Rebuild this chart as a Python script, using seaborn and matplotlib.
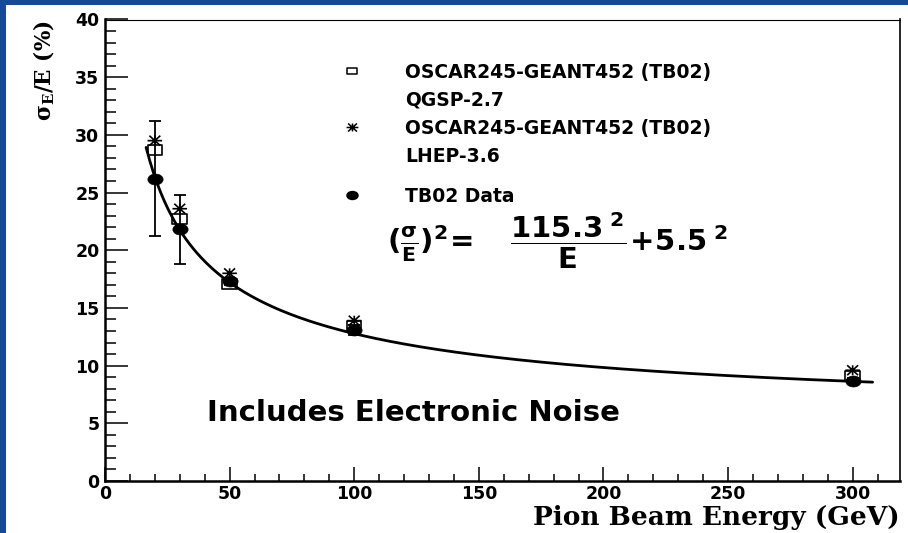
import numpy as np
import pandas as pd
import matplotlib
matplotlib.use("Agg")
import matplotlib.pyplot as plt
from matplotlib.path import Path
from matplotlib.patches import Rectangle
from matplotlib.lines import Line2D
import seaborn as sns

# Beam energies (GeV) and fractional resolution sigma_E/E (%)
energy = [20, 30, 50, 100, 300]
qgsp_res = [28.7, 22.7, 17.1, 13.4, 9.1]      # OSCAR245-GEANT452 (TB02) QGSP-2.7
lhep_res = [29.5, 23.6, 18.0, 13.9, 9.6]      # OSCAR245-GEANT452 (TB02) LHEP-3.6
data_res = [26.2, 21.8, 17.3, 13.1, 8.7]      # TB02 Data
data_err = [5.0, 2.95, 0.3, 0.45, 0.2]

# Fit parameters: (sigma/E)^2 = a^2/E + b^2
fit_stochastic = 115.3
fit_constant = 5.5
fit_e_min, fit_e_max = 16.5, 308.0

x_major = list(range(0, 301, 50))
x_minor = list(range(0, 311, 10))
y_major = list(range(0, 41, 5))
y_minor = list(range(0, 41, 1))

sns.set_theme(style="white")
plt.rcParams["font.family"] = ["DejaVu Sans"]
plt.rcParams["font.weight"] = "bold"
plt.rcParams["text.color"] = "black"
plt.rcParams["axes.labelcolor"] = "black"
plt.rcParams["xtick.color"] = "black"
plt.rcParams["ytick.color"] = "black"

W, H = 908, 533
fig = plt.figure(figsize=(W / 100, H / 100), dpi=100, facecolor="#174a96")
fig.patches.append(Rectangle((6 / W, 0), 1, 1 - 5 / H, transform=fig.transFigure,
                             facecolor="white", edgecolor="none", zorder=-10))

ax_l, ax_r, ax_t, ax_b = 105, 900, 19.5, 481
ax = fig.add_axes([ax_l / W, (H - ax_b) / H, (ax_r - ax_l) / W, (ax_b - ax_t) / H])
ax.set_facecolor("white")

# Flattened marker shapes
circle_path = Path.unit_circle().transformed(matplotlib.transforms.Affine2D().scale(1.0, 0.72))
square_path = Path([(-1, -0.68), (1, -0.68), (1, 0.68), (-1, 0.68), (-1, -0.68)],
                   [Path.MOVETO, Path.LINETO, Path.LINETO, Path.LINETO, Path.CLOSEPOLY])
sx, sy = 1.0, 0.68
star_path = Path([(-sx, 0), (sx, 0), (0, -sy), (0, sy),
                  (-0.75 * sx, -sy), (0.75 * sx, sy), (-0.75 * sx, sy), (0.75 * sx, -sy)],
                 [Path.MOVETO, Path.LINETO] * 4)

df = pd.DataFrame({"energy": energy, "qgsp": qgsp_res, "lhep": lhep_res,
                   "data": data_res, "err": data_err})

# Fit curve
e_fit = np.linspace(fit_e_min, fit_e_max, 400)
res_fit = np.sqrt(fit_stochastic ** 2 / e_fit + fit_constant ** 2)
sns.lineplot(x=e_fit, y=res_fit, color="black", linewidth=2.0, ax=ax, zorder=2)

ax.errorbar(df["energy"], df["data"], yerr=df["err"], fmt="none", ecolor="black",
            elinewidth=1.3, capsize=4, capthick=1.3, zorder=3)

sns.scatterplot(data=df, x="energy", y="qgsp", marker=square_path, s=110,
                facecolors="none", edgecolor="black", linewidth=1.2, ax=ax, zorder=4)
sns.scatterplot(data=df, x="energy", y="lhep", marker=star_path, s=110,
                facecolors="none", edgecolor="black", linewidth=1.2, ax=ax, zorder=4)
sns.scatterplot(data=df, x="energy", y="data", marker=circle_path, s=120,
                color="black", edgecolor="black", linewidth=0.5, ax=ax, zorder=5)

ax.set_xlim(0, 319)
ax.set_ylim(0, 40)
ax.set_xticks(x_major)
ax.set_xticks(x_minor, minor=True)
ax.set_yticks(y_major)
ax.set_yticks(y_minor, minor=True)
ax.tick_params(which="both", direction="in", top=False, right=False,
               left=True, bottom=True, width=1.1, colors="black", labelsize=12.5)
ax.tick_params(axis="y", which="major", length=16.5, pad=4)
ax.tick_params(axis="y", which="minor", length=8)
ax.tick_params(axis="x", which="major", length=10, pad=3)
ax.tick_params(axis="x", which="minor", length=5)
for lbl in ax.get_xticklabels() + ax.get_yticklabels():
    lbl.set_fontweight("bold")

for side, lw in {"left": 1.8, "bottom": 1.8, "top": 0.8, "right": 1.2}.items():
    ax.spines[side].set_visible(True)
    ax.spines[side].set_color("black")
    ax.spines[side].set_linewidth(lw)

ax.set_xlabel("Pion Beam Energy (GeV)", fontfamily="DejaVu Serif",
              fontweight="bold", fontsize=19)
ax.xaxis.set_label_coords(1.0, (ax_b - 518) / (ax_b - ax_t))
ax.xaxis.label.set(ha="right", va="center")

ax.set_ylabel(r"$\mathbf{\sigma_E/E\ (\%)}$", math_fontfamily="dejavuserif", fontsize=15.5)
ax.yaxis.set_label_coords((44 - ax_l) / (ax_r - ax_l), (ax_b - 20) / (ax_b - ax_t))
ax.yaxis.label.set(ha="right", va="center", rotation_mode="anchor")

def ax_frac(px, py):
    return (px - ax_l) / (ax_r - ax_l), (ax_b - py) / (ax_b - ax_t)

# Legend
leg_font = {"family": "DejaVu Sans", "weight": "bold", "size": 13.5}
blank = Line2D([], [], linestyle="none", marker=None)
h_sq = Line2D([], [], linestyle="none", marker=square_path, markersize=7,
              markerfacecolor="none", markeredgecolor="black", markeredgewidth=1.1)
h_st = Line2D([], [], linestyle="none", marker=star_path, markersize=8.5,
              markerfacecolor="none", markeredgecolor="black", markeredgewidth=1.1)
h_ci = Line2D([], [], linestyle="none", marker=circle_path, markersize=8,
              markerfacecolor="black", markeredgecolor="black")
leg1 = ax.legend([h_sq, blank, h_st, blank],
                 ["OSCAR245-GEANT452 (TB02)", "QGSP-2.7",
                  "OSCAR245-GEANT452 (TB02)", "LHEP-3.6"],
                 loc="upper left", bbox_to_anchor=ax_frac(342.6, 63), prop=leg_font,
                 frameon=False, borderpad=0, borderaxespad=0, handlelength=1.0,
                 handletextpad=2.33, labelspacing=0.48)
ax.add_artist(leg1)
ax.legend([h_ci], ["TB02 Data"], loc="upper left", bbox_to_anchor=ax_frac(342.6, 187),
          prop=leg_font, frameon=False, borderpad=0, borderaxespad=0,
          handlelength=1.0, handletextpad=2.33)

fx, fy = ax_frac(387, 241)
ax.text(fx, fy, r"$\mathbf{(\frac{\sigma}{E})^2\!=\quad\dfrac{115.3^{\ 2}}{E}\!+\!5.5^{\ 2}}$",
        transform=ax.transAxes, math_fontfamily="dejavusans", fontsize=21,
        ha="left", va="center")

nx, ny = ax_frac(207, 413)
ax.text(nx, ny, "Includes Electronic Noise", transform=ax.transAxes,
        fontfamily="DejaVu Sans", fontweight="bold", fontsize=21, ha="left", va="center")

fig.savefig("out.png", dpi=100, facecolor=fig.get_facecolor())
